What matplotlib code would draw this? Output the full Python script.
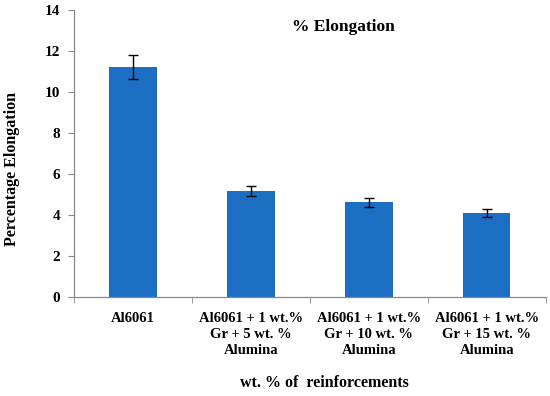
import matplotlib
matplotlib.use('Agg')
import numpy as np
import matplotlib.pyplot as plt

# % elongation of the composites
categories = ['Al6061',
              'Al6061 + 1 wt.%\nGr + 5 wt. %\nAlumina',
              'Al6061 + 1 wt.%\nGr + 10 wt. %\nAlumina',
              'Al6061 + 1 wt.%\nGr + 15 wt. %\nAlumina']
elongation = [11.22, 5.17, 4.61, 4.1]
errors = [0.58, 0.26, 0.24, 0.21]
yticks = [0, 2, 4, 6, 8, 10, 12, 14]

plt.rcParams['font.family'] = ['Liberation Serif', 'DejaVu Serif']
plt.rcParams['font.weight'] = 'bold'

fig = plt.figure(figsize=(5.5, 3.96), dpi=100)
ax = fig.add_axes([0.1345, 0.25, 0.858, 0.725])

x = np.arange(len(categories))
ax.bar(x, elongation, width=0.4, color='#1B6EC2', zorder=2)
ax.errorbar(x, elongation, yerr=errors, fmt='none', ecolor='black',
            elinewidth=1, capsize=3.5, capthick=1, zorder=3)

ax.set_xlim(-0.5, len(categories) - 0.5)
ax.set_ylim(0, 14)
ax.set_yticks(yticks)
ax.set_yticklabels([str(t) for t in yticks], fontsize=11, fontweight='bold')
ax.set_xticks(x)
ax.set_xticklabels(categories, fontsize=10.5, fontweight='bold', linespacing=1.3)
ax.set_xticks(np.arange(-0.5, len(categories), 1.0), minor=True)
ax.tick_params(axis='x', which='major', length=0, pad=11)
ax.tick_params(axis='x', which='minor', length=4, color='#888888', direction='out')
ax.tick_params(axis='y', length=4, color='#888888', direction='out', pad=6)

for side in ['top', 'right']:
    ax.spines[side].set_visible(False)
for side in ['left', 'bottom']:
    ax.spines[side].set_color('#888888')
    ax.spines[side].set_linewidth(0.9)

ax.text(0.57, 0.94, '% Elongation', transform=ax.transAxes, ha='center',
        va='center', fontsize=12.5, fontweight='bold')
fig.text(0.021, 0.573, 'Percentage Elongation', rotation=90, ha='center',
         va='center', fontsize=11.5, fontweight='bold')
fig.text(0.59, 0.033, 'wt. % of  reinforcements', ha='center', va='center',
         fontsize=11.5, fontweight='bold')

fig.savefig('out.png', dpi=100)
